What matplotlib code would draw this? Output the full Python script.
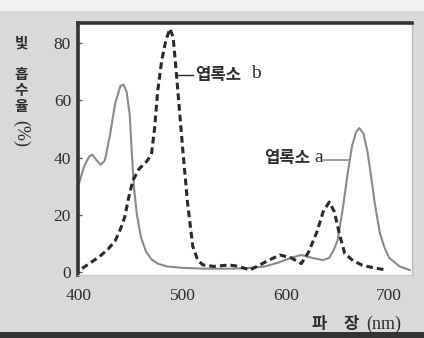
import matplotlib
matplotlib.use("Agg")
import matplotlib.pyplot as plt
from matplotlib.patches import Rectangle

# Chlorophyll a (solid curve)
WAVELENGTH_A = [400, 405, 410, 413, 417, 421, 425, 430, 435, 440, 443, 446, 449, 451,
                453, 456, 460, 465, 470, 476, 485, 500, 520, 540, 560, 580, 594, 605,
                615, 625, 636, 642, 646, 650, 655, 660, 664, 668, 671, 675, 679, 683,
                686, 691, 696, 700, 710, 720]
ABSORB_A = [31, 37, 40.5, 41, 39, 37.5, 39, 48, 59, 65, 65.5, 63, 55, 42,
            30, 20, 12, 7, 4.5, 3, 2, 1.5, 1.2, 1.2, 1.3, 2, 3.5, 5,
            6, 5, 4.2, 5, 7.5, 11, 22, 35, 44, 49, 50.3, 48.5, 42, 32,
            24, 13.5, 8, 5, 2, 0.7]

# Chlorophyll b (dashed curve)
WAVELENGTH_B = [403, 410, 420, 428, 435, 440, 444, 448, 452, 458, 465, 470, 473, 476,
                480, 484, 488, 491, 494, 497, 500.5, 505, 510, 515, 520, 530, 545, 555,
                565, 572, 580, 594, 605, 615, 622, 630, 636, 642, 647, 652, 657, 665,
                674, 685, 698]
ABSORB_B = [1.3, 3, 5.5, 8, 11, 15, 19, 26, 32, 36, 38.5, 41, 50, 63,
            74, 81, 85, 82, 70, 57, 42, 24, 9, 4, 2.5, 2, 2.5, 2,
            0.7, 2, 3.5, 6, 5, 3, 7, 14, 21, 24.5, 21, 13, 6.5, 4,
            2.4, 1.5, 0.7]

X_TICKS = [400, 500, 600, 700]
Y_TICKS = [0, 20, 40, 60, 80]

W, H = 424, 338
KR = ["Noto Sans CJK KR", "DejaVu Sans"]
SERIF = ["Liberation Serif", "Noto Sans CJK KR"]
TXT = "#2e2e2e"


def fx(px):
    return px / W


def fy(py):
    return 1 - py / H


fig = plt.figure(figsize=(W / 100, H / 100), dpi=100)
fig.patch.set_facecolor("#d9d9d9")
fig.patches.append(Rectangle((0, fy(11)), 1, 11 / H, transform=fig.transFigure,
                             facecolor="#f2f2f2", edgecolor="none", zorder=0))
fig.patches.append(Rectangle((0, 0), 1, 6 / H, transform=fig.transFigure,
                             facecolor="#333333", edgecolor="none", zorder=0))

ax = fig.add_axes([fx(78), fy(275), (412 - 78) / W, (275 - 23) / H])
ax.set_facecolor("white")

ax.plot(WAVELENGTH_A, ABSORB_A, color="#8a8a8a", lw=1.5, solid_capstyle="round")
ax.plot(WAVELENGTH_B, ABSORB_B, color="#2a2a2a", lw=2.2, linestyle=(0, (2.2, 1.3)))

# curve labels with short leader lines
ax.plot([494, 510], [69, 69], color="#2a2a2a", lw=1.0)
ax.text(512, 69, "엽록소", family=KR, fontsize=12, fontweight="bold",
        color=TXT, va="center", ha="left")
ax.text(566, 69.5, "b", family=SERIF, fontsize=14,
        color=TXT, va="center", ha="left")
ax.plot([637, 661], [39, 39], color="#8a8a8a", lw=1.2)
ax.text(636, 40, "a", family=SERIF, fontsize=14,
        color=TXT, va="center", ha="right")
ax.text(624, 40, "엽록소", family=KR, fontsize=12, fontweight="bold",
        color=TXT, va="center", ha="right")

ax.set_xlim(399, 722)
ax.set_ylim(-1, 87)
ax.set_xticks(X_TICKS)
ax.set_yticks(Y_TICKS)
ax.tick_params(axis="x", length=0, pad=9, labelsize=12.5, labelcolor=TXT)
ax.tick_params(axis="y", direction="in", length=3, width=1, color="#555555",
               pad=5, labelsize=12.5, labelcolor=TXT)
for lab in ax.get_xticklabels() + ax.get_yticklabels():
    lab.set_family(SERIF)

ax.spines["left"].set_linewidth(2.6)
ax.spines["left"].set_color("#333333")
ax.spines["top"].set_linewidth(2.6)
ax.spines["top"].set_color("#333333")
ax.spines["right"].set_linewidth(1.0)
ax.spines["right"].set_color("#bdbdbd")
ax.spines["bottom"].set_linewidth(1.0)
ax.spines["bottom"].set_color("#c8c8c8")

# y-axis label, stacked vertically
for ch, py in [("빛", 42), ("흡", 74), ("수", 90), ("율", 106)]:
    fig.text(fx(21), fy(py), ch, family=KR, fontsize=10.5, fontweight="bold",
             color=TXT, ha="center", va="center")
fig.text(fx(21), fy(134), "(%)", family=SERIF, fontsize=13, color=TXT,
         ha="center", va="center", rotation=270)

# x-axis label
fig.text(fx(319), fy(324), "파", family=KR, fontsize=12, fontweight="bold",
         color=TXT, ha="center", va="center")
fig.text(fx(351), fy(324), "장", family=KR, fontsize=12, fontweight="bold",
         color=TXT, ha="center", va="center")
fig.text(fx(384), fy(324), "(nm)", family=SERIF, fontsize=13, color=TXT,
         ha="center", va="center")

fig.savefig("out.png", dpi=100, facecolor=fig.get_facecolor())
